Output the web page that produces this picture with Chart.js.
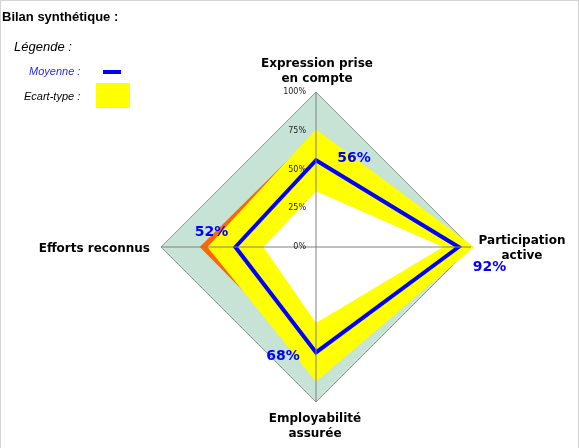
<!DOCTYPE html>
<html lang="fr">
<head>
<meta charset="utf-8">
<title>Bilan synthétique</title>
<script src="https://cdn.jsdelivr.net/npm/chart.js@4.4.1/dist/chart.umd.min.js"></script>
<style>
  html, body { margin: 0; padding: 0; background: #fff; }
  #page { position: relative; width: 579px; height: 448px; overflow: hidden; font-family: "Liberation Sans", Arial, sans-serif; }
  #cadre { position: absolute; left: 0; top: 0; width: 579px; height: 460px; box-sizing: border-box; border: 1px solid #d4d4d4; pointer-events: none; }
  #graphe { position: absolute; left: 0; top: 0; }
  .txt { position: absolute; white-space: nowrap; }
  .titre { left: 2px; top: 10px; font-size: 13px; line-height: 13px; font-weight: bold; color: #000; }
  .legende { left: 14px; top: 40px; font-size: 13px; line-height: 13px; font-style: italic; color: #000; }
  .moy { left: 29px; top: 66px; font-size: 11px; line-height: 11px; font-style: italic; color: #2a2ae8; }
  .ecart { left: 24px; top: 91px; font-size: 11px; line-height: 11px; font-style: italic; color: #000; }
  .trait { position: absolute; left: 103px; top: 70px; width: 18px; height: 4px; background: #0000ff; }
  .carre { position: absolute; left: 96px; top: 83px; width: 34px; height: 25px; background: #ffff00; }
</style>
</head>
<body>
<div id="page">
  <canvas id="graphe" width="579" height="448"></canvas>
  <div class="txt titre">Bilan synthétique :</div>
  <div class="txt legende">Légende :</div>
  <div class="txt moy">Moyenne :</div>
  <div class="trait"></div>
  <div class="txt ecart">Ecart-type :</div>
  <div class="carre"></div>
  <div id="cadre"></div>
</div>
<script>
// Axes du radar (haut, droite, bas, gauche)
const axes = [['Expression prise', 'en compte'], ['Participation', 'active'], ['Employabilité', 'assurée'], ['Efforts reconnus']];
const moyenne = [56, 92, 68, 52];
const ecartType = [20, 10, 19, 18];
const maximum = [74, 90, 76, 75];
const plein = [100, 100, 100, 100];
const graduations = [0, 25, 50, 75, 100];

// bornes de la bande jaune
const bandeHaut = moyenne.map((v, i) => v + ecartType[i]);
const bandeBas = moyenne.map((v, i) => v - ecartType[i]);

// décalages des textes (pixels)
const placeAxes = [
    { dx: 1, dy: -25, align: 'center' },
    { dx: 51, dy: -3, align: 'center' },
    { dx: -1, dy: 20, align: 'center' },
    { dx: -11, dy: 5, align: 'right' }
];
const placeValeurs = [[38, 2], [31, 24], [-33, 8], [-24, -11]];

const textes = {
    id: 'textes',
    afterDraw(chart) {
        const r = chart.scales.r;
        const ctx = chart.ctx;
        ctx.save();
        ctx.font = '8px "DejaVu Sans"';
        ctx.fillStyle = '#222';
        ctx.textAlign = 'right';
        ctx.textBaseline = 'middle';
        graduations.forEach(v => {
            ctx.fillText(v + '%', r.xCenter - 10, r.yCenter - r.getDistanceFromCenterForValue(v));
        });

        ctx.textBaseline = 'alphabetic';
        ctx.font = 'bold 12px "DejaVu Sans"';
        ctx.fillStyle = '#000';
        axes.forEach((lignes, i) => {
            const p = r.getPointPosition(i, r.drawingArea);
            const o = placeAxes[i];
            ctx.textAlign = o.align;
            lignes.forEach((t, k) => ctx.fillText(t, p.x + o.dx, p.y + o.dy + k * 15));
        });

        ctx.font = 'bold 14px "DejaVu Sans"';
        ctx.fillStyle = '#0000ff';
        ctx.textAlign = 'center';
        moyenne.forEach((v, i) => {
            const p = r.getPointPosition(i, r.getDistanceFromCenterForValue(v));
            ctx.fillText(v + '%', p.x + placeValeurs[i][0], p.y + placeValeurs[i][1]);
        });
        ctx.restore();
    }
};

new Chart(document.getElementById('graphe'), {
    type: 'radar',
    data: {
        labels: axes,
        datasets: [
            {
                label: 'Moyenne',
                data: moyenne,
                borderColor: '#0000ff',
                borderWidth: 4,
                fill: false,
                order: 1
            },
            {
                label: 'Bas',
                data: bandeBas,
                backgroundColor: '#ffffff',
                borderWidth: 0,
                fill: 'origin',
                order: 2
            },
            {
                label: 'Ecart-type',
                data: bandeHaut,
                backgroundColor: '#ffff00',
                borderWidth: 0,
                fill: 'origin',
                order: 3
            },
            {
                label: 'Maximum',
                data: maximum,
                backgroundColor: '#ff6600',
                borderWidth: 0,
                fill: 'origin',
                order: 4
            },
            {
                label: 'Total',
                data: plein,
                backgroundColor: '#c6e3d6',
                borderColor: '#8d9a93',
                borderWidth: 1,
                fill: 'origin',
                order: 5
            }
        ]
    },
    options: {
        responsive: false,
        animation: false,
        devicePixelRatio: 1,
        clip: false,
        layout: { padding: { left: 140, right: 87, top: 92, bottom: 46 } },
        elements: {
            line: { tension: 0, borderJoinStyle: 'miter' },
            point: { radius: 0, hoverRadius: 0 }
        },
        plugins: {
            legend: { display: false },
            tooltip: { enabled: false }
        },
        scales: {
            r: {
                min: 0,
                max: 100,
                ticks: { display: false, z: 1 },
                grid: { display: false, z: 1 },
                angleLines: { display: true, color: '#808080', lineWidth: 1 },
                pointLabels: { display: false }
            }
        }
    },
    plugins: [textes]
});
</script>
</body>
</html>
